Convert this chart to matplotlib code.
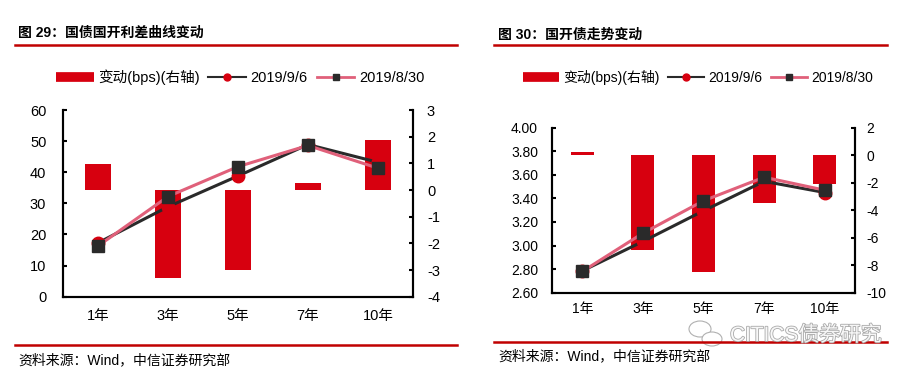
import matplotlib
matplotlib.use("Agg")
import matplotlib.pyplot as plt
from matplotlib.lines import Line2D
from matplotlib.ticker import FormatStrFormatter, MultipleLocator
import matplotlib.patheffects as pe
from matplotlib.patches import Ellipse
import numpy as np

plt.rcParams['font.family'] = ['Liberation Sans', 'Noto Sans CJK SC', 'DejaVu Sans']
plt.rcParams['axes.unicode_minus'] = False

# 数据
categories = ['1年', '3年', '5年', '7年', '10年']

# 图29：国债国开利差（bp）
spread_0906 = [17.3, 28.9, 38.8, 48.9, 43.2]
spread_0830 = [16.3, 32.2, 41.8, 48.6, 41.3]
spread_chg = [0.97, -3.3, -3.0, 0.26, 1.87]

# 图30：国开债收益率（%）
cdb_0906 = [2.785, 3.035, 3.295, 3.545, 3.45]
cdb_0830 = [2.78, 3.105, 3.38, 3.58, 3.47]
cdb_chg = [0.25, -6.9, -8.5, -3.45, -2.1]

RED = '#D7000F'
DARKRED = '#C00000'
PINK = '#E0607A'
BLACK = '#2A2A2A'

W, H = 912, 375
fig = plt.figure(figsize=(W / 100, H / 100), dpi=100)


def fx(px):
    return px / W


def fy(py):
    return 1 - py / H


def panel(rect, title, title_xy, rule_top, rule_bot, src_xy, leg_xy, fs,
          y1, y2, chg, lim1, step1, lim2, step2, fmt1, pads, msize):
    l, t, r, b = rect
    ax = fig.add_axes([fx(l), fy(b), fx(r - l), (b - t) / H])
    ax2 = ax.twinx()
    x = np.arange(len(categories))

    ax2.bar(x, chg, width=0.38, color=RED, zorder=1)
    ax.plot(x, y1, color=BLACK, lw=2.2, marker='o', ms=msize,
            mfc=RED, mec=RED, zorder=3)
    ax.plot(x, y2, color=PINK, lw=2.2, marker='s', ms=msize - 1,
            mfc=BLACK, mec=BLACK, zorder=4)
    ax.set_zorder(ax2.get_zorder() + 1)
    ax.patch.set_visible(False)

    ax.set_xlim(-0.5, len(categories) - 0.5)
    ax.set_ylim(*lim1)
    ax.yaxis.set_major_locator(MultipleLocator(step1))
    ax.yaxis.set_major_formatter(FormatStrFormatter(fmt1))
    ax2.set_ylim(*lim2)
    ax2.yaxis.set_major_locator(MultipleLocator(step2))
    ax.set_xticks(x)
    ax.set_xticklabels(categories)

    for a in (ax, ax2):
        for s in a.spines.values():
            s.set_linewidth(1.5)
            s.set_color('black')
        a.spines['top'].set_visible(False)
    ax.tick_params(axis='y', direction='in', length=3, width=1.5,
                   labelsize=fs, pad=pads[0])
    ax2.tick_params(axis='y', direction='in', length=3, width=1.5,
                    labelsize=fs, pad=pads[1])
    ax.tick_params(axis='x', length=0, labelsize=fs, pad=pads[2])

    # 标题、红线、来源
    fig.text(fx(title_xy[0]), fy(title_xy[1]), title, fontsize=10,
             fontweight='bold', va='center', ha='left')
    fig.add_artist(Line2D([fx(rule_top[0]), fx(rule_top[1])],
                          [fy(rule_top[2])] * 2, color=DARKRED, lw=1.8))
    fig.add_artist(Line2D([fx(rule_bot[0]), fx(rule_bot[1])],
                          [fy(rule_bot[2])] * 2, color=DARKRED, lw=1.8))
    fig.text(fx(src_xy[0]), fy(src_xy[1]), '资料来源：Wind，中信证券研究部',
             fontsize=10, va='center', ha='left')

    handles = [
        Line2D([], [], color=RED, lw=7, solid_capstyle='butt'),
        Line2D([], [], color=BLACK, lw=1.5, marker='o', ms=5,
               mfc=RED, mec=RED),
        Line2D([], [], color=PINK, lw=2, marker='s', ms=5,
               mfc=BLACK, mec=BLACK),
    ]
    labels = ['变动(bps)(右轴)', '2019/9/6', '2019/8/30']
    fig.legend(handles, labels, loc='center',
               bbox_to_anchor=(fx(leg_xy[0]), fy(leg_xy[1])), ncol=3,
               frameon=False, fontsize=fs, numpoints=1, handlelength=2.6,
               handletextpad=0.3, columnspacing=0.6)
    return ax, ax2


panel((63, 110, 413, 296.7), '图 29：国债国开利差曲线变动', (18, 33),
      (15, 457, 45), (15, 457, 344.7), (18, 360), (240, 77), 10.5,
      spread_0906, spread_0830, spread_chg, (0, 60), 10, (-4, 3), 1,
      '%d', (12, 10, 9), 9)

panel((552, 127.7, 855, 292.7), '图 30：国开债走势变动', (498, 35),
      (494, 887, 45), (494, 887, 341.7), (498, 356), (698, 77), 10,
      cdb_0906, cdb_0830, cdb_chg, (2.6, 4.0), 0.2, (-10, 2), 2,
      '%.2f', (10, 8, 7), 9)

# 水印
fig.text(fx(730), fy(335), 'CITICS债券研究', fontsize=15, color='white',
         va='center', ha='left', alpha=0.9,
         path_effects=[pe.withStroke(linewidth=1.2, foreground='#A0A0A0')])
for cx, cy, w, h in [(700, 329, 22, 16), (712, 339, 20, 14)]:
    fig.add_artist(Ellipse((fx(cx), fy(cy)), w / W, h / H, fill=True,
                           fc='white', ec='#B0B0B0', lw=0.8))

fig.savefig('out.png', dpi=100)
